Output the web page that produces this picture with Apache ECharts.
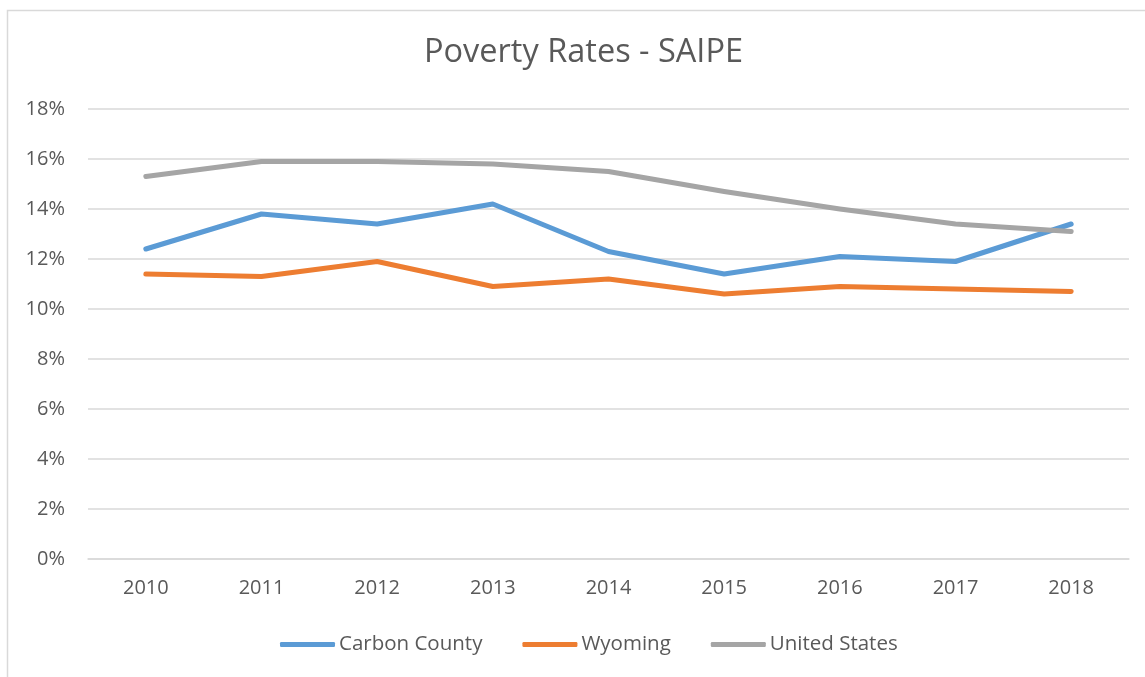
<!DOCTYPE html>
<html>
<head>
<meta charset="utf-8">
<script src="https://cdn.jsdelivr.net/npm/echarts@6/dist/echarts.min.js"></script>
<style>
html,body{margin:0;padding:0;background:#fff;}
#chart{width:1145px;height:677px;}
</style>
</head>
<body>
<div id="chart"></div>
<script>
var years = ['2010','2011','2012','2013','2014','2015','2016','2017','2018'];
var carbonCounty = [12.4, 13.8, 13.4, 14.2, 12.3, 11.4, 12.1, 11.9, 13.4];
var wyoming = [11.4, 11.3, 11.9, 10.9, 11.2, 10.6, 10.9, 10.8, 10.7];
var unitedStates = [15.3, 15.9, 15.9, 15.8, 15.5, 14.7, 14.0, 13.4, 13.1];
var seriesNames = ['Carbon County', 'Wyoming', 'United States'];

var font = 'Open Sans, Liberation Sans, sans-serif';
var chart = echarts.init(document.getElementById('chart'));
function mk(name, data, color) {
  return {
    name: name, type: 'line', data: data, symbol: 'none',
    lineStyle: {width: 5, color: color, cap: 'round', join: 'round'},
    itemStyle: {color: color}
  };
}
chart.setOption({
  animation: false,
  graphic: [{
    type: 'rect', shape: {x: 7.5, y: 10.5, width: 1160, height: 700},
    style: {fill: 'none', stroke: '#d9d9d9', lineWidth: 1.5}, silent: true
  }],
  title: {
    text: 'Poverty Rates - SAIPE', left: 419, top: 31,
    textStyle: {fontFamily: font, fontSize: 32.5, fontWeight: 'normal', color: '#595959'}
  },
  legend: {
    data: seriesNames, bottom: 17, left: 275, itemWidth: 55, itemHeight: 5, itemGap: 40,
    icon: 'roundRect',
    textStyle: {fontFamily: font, fontSize: 20.5, color: '#595959', padding: [0,0,0,-1]}
  },
  grid: {left: 88, right: 16, top: 109, bottom: 118, containLabel: false},
  xAxis: {
    type: 'category', data: years, boundaryGap: true,
    axisLine: {show: true, lineStyle: {color: '#d9d9d9', width: 1.5}},
    axisTick: {show: false},
    axisLabel: {fontFamily: font, fontSize: 20, color: '#595959', margin: 19}
  },
  yAxis: {
    type: 'value', min: 0, max: 18, interval: 2,
    axisLine: {show: false}, axisTick: {show: false},
    splitLine: {lineStyle: {color: '#d9d9d9', width: 1.5}},
    axisLabel: {fontFamily: font, fontSize: 20, color: '#595959', margin: 23, formatter: '{value}%'}
  },
  series: [
    mk(seriesNames[0], carbonCounty, '#5B9BD5'),
    mk(seriesNames[1], wyoming, '#ED7D31'),
    mk(seriesNames[2], unitedStates, '#A5A5A5')
  ]
});
</script>
</body>
</html>
